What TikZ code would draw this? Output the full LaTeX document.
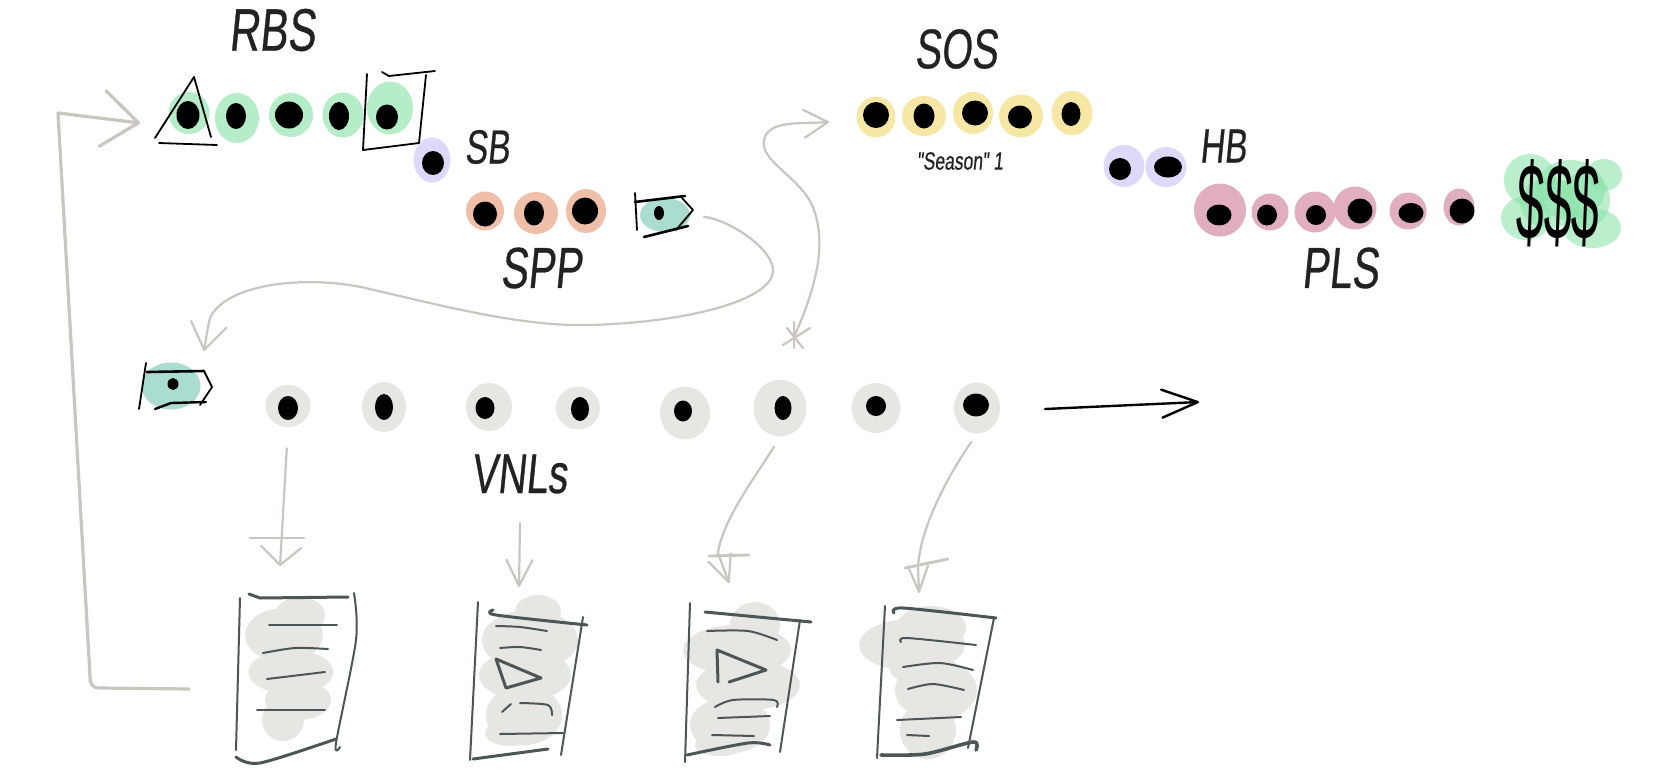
\documentclass[tikz,border=0pt]{standalone}
\usepackage{fontspec}
\usepackage{xcolor}
\usepackage{tikz}
\usetikzlibrary{arrows.meta,shapes.geometric}
\newfontfamily\handfont[FakeStretch=0.7,FakeSlant=0.1,FakeBold=0.5]{Liberation Sans}
\newfontfamily\cashfont[FakeStretch=0.46,FakeSlant=0.04]{Liberation Sans}
\newcommand{\handsize}[1]{\handfont\fontsize{#1}{#1}\selectfont}
\definecolor{rbsgreen}{HTML}{B6EDC9}
\definecolor{cashgreen}{HTML}{8CE3AA}
\definecolor{sbviolet}{HTML}{DCD9FB}
\definecolor{spporange}{HTML}{F0BFAA}
\definecolor{tagteal}{HTML}{AADCD0}
\definecolor{sosyellow}{HTML}{F6E7A4}
\definecolor{plspink}{HTML}{E0AEBF}
\definecolor{vnlgrey}{HTML}{E6E6E3}
\definecolor{flowgrey}{HTML}{C8C6BF}
\definecolor{docink}{HTML}{4D5656}
\definecolor{labelink}{HTML}{222222}
\tikzset{
  blob/.style={ellipse, draw=none, inner sep=0pt},
  seed/.style={ellipse, fill=black, draw=none, inner sep=0pt},
  handlabel/.style={inner sep=0pt, text=labelink},
  inkline/.style={draw=black, line width=1.8pt, line cap=round, line join=round},
  docline/.style={draw=docink, line width=2pt, line cap=round, line join=round},
  docheavy/.style={docline, line width=3pt},
  flowline/.style={draw=flowgrey, line width=2.2pt, line cap=round},
  flowbar/.style={draw=flowgrey, line width=2.8pt, line cap=round},
}
% name/x/y/w/h of a blob, then x/y/w/h of its seed
\newcommand{\seedrow}[2]{%
  \foreach \n/\x/\y/\w/\h/\px/\py/\pw/\ph in {#2} {
    \node[blob, fill=#1, minimum width=\w pt, minimum height=\h pt] (\n) at (\x,\y) {};
    \node[seed, minimum width=\pw pt, minimum height=\ph pt] (\n seed) at (\px,\py) {};
  }%
}
\begin{document}
\begin{tikzpicture}[x=1pt,y=-1pt]
  \path[use as bounding box, fill=white] (0,0) rectangle (1660,772);

  % blobs for the document sketches
  \foreach \n/\x/\y/\w/\h in {
    a0/300/615/50/36, a1/284/635/78/54, a2/291/672/85/44, a3/298/700/66/40, a4/283/720/42/42,
    b0/538/612/46/34, b1/530/640/96/60, b2/525/675/92/50, b3/524/715/76/60, b4/510/733/50/26,
    c0/755/625/50/46, c1/737/650/108/50, c2/748/685/104/50, c3/730/725/80/56, c4/720/745/50/22,
    d0/931/628/70/44, d1/912/645/106/52, d5/925/670/70/30, d2/936/690/82/60, d3/928/730/56/58} {
    \node[blob, fill=vnlgrey, minimum width=\w pt, minimum height=\h pt] (blob\n) at (\x,\y) {};
  }

  \seedrow{rbsgreen}{
    rbsA/189/113/41/42/188/115/23/28, rbsB/237/118/44/50/236/116/20/26,
    rbsC/291/115/44/44/289/115/28/27, rbsD/343/115/41/45/339/116/20/28,
    rbsE/390/108/46/53/387/117/22/25}
  \seedrow{sbviolet}{sbA/432/160/37/45/433/163/22/24,
    hbA/1124/166/41/42/1120/169/22/22, hbB/1166/167/41/40/1168/167/28/21}
  \seedrow{spporange}{
    sppA/485/211/38/39/485/214/24/25, sppB/536/213/44/42/534/213/20/25,
    sppC/586/211/40/44/585/211/26/27}
  \seedrow{tagteal}{
    tagA/665/215/50/34/659/213/10/14, tagB/171/386/59/47/173/384/11/12}
  \seedrow{sosyellow}{
    sosA/876/117/39/41/876/115/26/26, sosB/924/116/44/40/924/116/21/25,
    sosC/973/113/40/42/975/113/26/25, sosD/1021/116/44/43/1020/117/24/23,
    sosE/1072/113/41/44/1071/114/19/24}
  \seedrow{plspink}{
    plsA/1220/210/52/53/1219/215/25/21, plsB/1270/212/37/37/1267/215/20/21,
    plsC/1315/212/41/41/1316/215/20/20, plsD/1355/208/43/43/1360/211/25/25,
    plsE/1408/211/37/37/1411/213/25/20, plsF/1459/207/31/37/1462/211/25/25}
  \seedrow{vnlgrey}{
    vnlA/288/406/45/42/288/408/20/24, vnlB/384/407/44/50/384/407/18/26,
    vnlC/489/407/46/48/485/408/19/22, vnlD/578/408/44/43/580/409/18/24,
    vnlE/685/413/50/53/683/411/18/21, vnlF/780/408/53/57/783/408/17/24,
    vnlG/876/408/49/50/876/406/20/20, vnlH/977/408/46/51/976/405/26/23}

  % the money
  \foreach \n/\x/\y/\w/\h in {
    m1/1530/180/52/52, m2/1570/190/70/60, m3/1604/175/36/32,
    m4/1526/218/50/44, m5/1592/228/58/40, m6/1550/203/60/50, m7/1585/200/50/56} {
    \node[blob, fill=cashgreen, fill opacity=0.6, minimum width=\w pt, minimum height=\h pt] (cash\n) at (\x,\y) {};
  }

  % labels
  \node[handlabel, font=\handsize{60}] (rbsLabel) at (272,30) {RBS};
  \node[handlabel, font=\handsize{48}] (sbLabel) at (487,147) {SB};
  \node[handlabel, font=\handsize{58}] (sppLabel) at (541,268) {SPP};
  \node[handlabel, font=\handsize{56}] (sosLabel) at (956,49) {SOS};
  \node[handlabel, font=\handsize{25}] (seasonLabel) at (960,161) {"Season" 1};
  \node[handlabel, font=\handsize{48}] (hbLabel) at (1223,146) {HB};
  \node[handlabel, font=\handsize{58}] (plsLabel) at (1340,268) {PLS};
  \node[handlabel, font=\handsize{56}] (vnlLabel) at (519,474) {VNLs};
  \node[inner sep=0pt, text=black, font=\cashfont\fontsize{108}{108}\selectfont] (cashLabel) at (1557,203) {\$\$\$};

  % triangle and square round the first and last RBS
  \draw[inkline] (194,77) -- (155,138);
  \draw[inkline] (194,77) -- (211,137);
  \draw[inkline] (159,143) -- (217,145);
  \draw[inkline] (367,74) -- (363,150) -- (419,143);
  \draw[inkline] (426,75) -- (419,143);
  \draw[inkline] (382,72) -- (389,76) -- (435,71);

  % the two tags
  \draw[inkline] (635,193) -- (637,230);
  \draw[inkline, line width=2.6pt] (635,202) -- (685,196);
  \draw[inkline] (682,198) -- (693,210) -- (676,230);
  \draw[inkline, line width=2.6pt] (644,237) -- (688,226);
  \draw[inkline] (146,363) -- (139,409);
  \draw[inkline, line width=2.6pt] (147,372) -- (204,371);
  \draw[inkline] (204,371) -- (212,387) -- (200,405);
  \draw[inkline, line width=2.4pt] (155,409) -- (171,403) -- (206,402);

  % connectors
  \coordinate (rbsIn) at (140,123);
  \coordinate (returnOut) at (189,689);
  \coordinate (sosIn) at (829,122);
  \coordinate (tagIn) at (204,351);
  \coordinate (vnlOut) at (794,337);
  \coordinate (nextOut) at (1045,409);
  \coordinate (nextIn) at (1199,402);
  \coordinate (docInA) at (280,566);
  \coordinate (docInB) at (519,587);
  \coordinate (docInC) at (729,583);
  \coordinate (docInD) at (919,593);
  \coordinate (vnlDown) at (520,523);

  \draw[flowline, line width=3.2pt, line join=round, -{Straight Barb[length=36pt,width=56pt,round]}]
    (returnOut) -- (100,688) .. controls (92,688) and (90,684) .. (90,676) -- (58,113) -- (rbsIn);
  \draw[flowline, shorten <=14pt, -{Straight Barb[length=26pt,width=36pt,round]}]
    (tagA.east) .. controls (730,220) and (775,250) .. (773,272)
    .. controls (770,300) and (690,322) .. (591,325)
    .. controls (520,327) and (440,305) .. (361,287)
    .. controls (300,275) and (225,285) .. (210,318)
    .. controls (207,330) and (206,340) .. (tagIn);
  \draw[flowline, -{Straight Barb[length=24pt,width=28pt,round]}]
    (vnlOut) .. controls (815,290) and (830,240) .. (810,201)
    .. controls (795,175) and (760,160) .. (764,140)
    .. controls (768,120) and (800,124) .. (sosIn);
  \draw[flowline] (783,345) -- (810,328);
  \draw[flowline] (787,328) -- (803,348);
  \draw[flowline] (794,322) -- (794,348);

  \draw[inkline, line width=2.4pt, -{Straight Barb[length=36pt,width=28pt,round]}] (nextOut) -- (nextIn);

  \draw[flowline, shorten <=21pt, -{Straight Barb[length=18pt,width=40pt,round]}] (vnlA.south) -- (docInA);
  \draw[flowline, -{Straight Barb[length=26pt,width=26pt,round]}] (vnlDown) -- (docInB);
  \draw[flowline, shorten <=12pt, -{Straight Barb[length=26pt,width=24pt,round]}]
    (vnlF.south) .. controls (760,470) and (722,520) .. (718,553) -- (docInC);
  \draw[flowline, shorten <=10pt, -{Straight Barb[length=26pt,width=20pt,round]}]
    (vnlH.south) .. controls (945,480) and (920,530) .. (918,567) -- (docInD);
  \draw[flowbar] (250,538) -- (304,538);
  \draw[flowbar] (709,556) -- (749,555);
  \draw[flowbar] (905,568) -- (948,559);

  % document A
  \draw[docline] (240,598) -- (236,750);
  \draw[docheavy] (249,594) -- (260,598) -- (348,597);
  \draw[docline] plot[smooth] coordinates {(354,593) (356,640) (336,743) (340,747)};
  \draw[docheavy] plot[smooth] coordinates {(236,757) (260,763) (336,739)};
  \draw[docline] (269,625) -- (337,625);
  \draw[docline] plot[smooth] coordinates {(263,653) (295,648) (328,649)};
  \draw[docline] (267,679) -- (325,672);
  \draw[docline] (257,710) -- (325,710);

  % document B
  \draw[docline] (478,602) -- (470,760);
  \draw[docheavy] plot[smooth] coordinates {(493,610) (496,615) (587,625)};
  \draw[docline] (583,617) -- (561,755);
  \draw[docheavy] (473,759) -- (548,749);
  \draw[docline] plot[smooth] coordinates {(496,626) (520,627) (547,631)};
  \draw[docline] plot[smooth] coordinates {(500,648) (520,647) (541,650)};
  \draw[docheavy, line join=round] (496,659) -- (506,688) -- (541,678) -- cycle;
  \draw[docline] plot[smooth] coordinates {(502,712) (511,704)};
  \draw[docline] plot[smooth] coordinates {(520,703) (548,705) (552,715)};
  \draw[docline] (500,734) -- (563,733);

  % document C
  \draw[docline] (690,603) -- (685,762);
  \draw[docheavy] (705,612) -- (811,622);
  \draw[docline] (800,620) -- (780,752);
  \draw[docheavy] plot[smooth] coordinates {(687,755) (748,743) (770,745)};
  \draw[docline] plot[smooth] coordinates {(707,631) (748,631) (777,640)};
  \draw[docheavy, line join=round] (718,682) -- (717,650) -- (766,670) -- (729,682);
  \draw[docline] plot[smooth] coordinates {(715,707) (733,700) (774,700) (777,707)};
  \draw[docline] (718,718) -- (770,716);
  \draw[docline] (712,735) -- (754,736);

  % document D
  \draw[docline] (885,606) -- (877,758);
  \draw[docheavy] plot[smooth] coordinates {(894,613) (903,608) (996,618)};
  \draw[docline] (994,618) -- (968,748);
  \draw[docheavy, line width=3.6pt] plot[smooth] coordinates {(881,755) (925,754) (973,742) (976,750)};
  \draw[docline] plot[smooth] coordinates {(901,642) (907,638) (976,645)};
  \draw[docline] plot[smooth] coordinates {(903,667) (940,663) (973,670)};
  \draw[docline] plot[smooth] coordinates {(908,689) (933,684) (964,690)};
  \draw[docline] (897,720) -- (961,717);
  \draw[docline] (907,735) -- (929,736);
\end{tikzpicture}
\end{document}
